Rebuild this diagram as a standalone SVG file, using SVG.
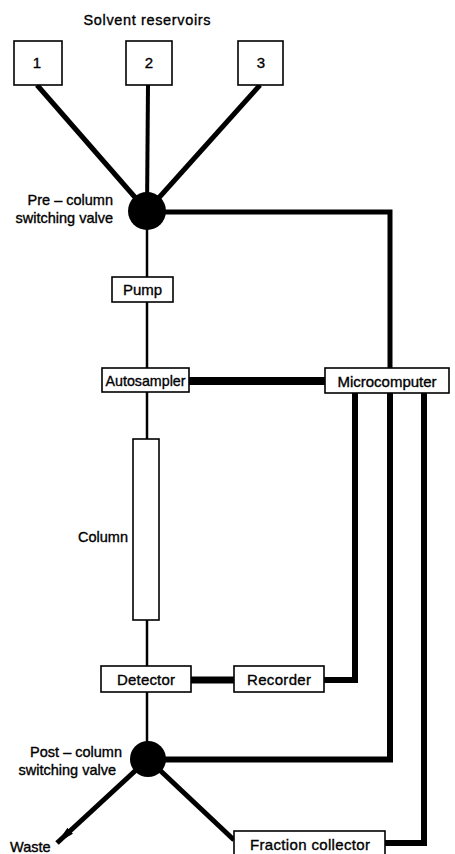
<svg xmlns="http://www.w3.org/2000/svg" width="455" height="854" viewBox="0 0 455 854">
<defs>
<style>
.box{fill:#fff;stroke:#000;stroke-width:1.6}
.t{font-family:"Liberation Sans",Arial,sans-serif;font-size:15px;fill:#000;stroke:#000;stroke-width:0.35}
.s{font-size:14.5px}
.c{text-anchor:middle}
.e{text-anchor:end}
.thin{fill:none;stroke:#000;stroke-width:2.5}
.thick{fill:none;stroke:#000;stroke-width:6}
.mid{fill:none;stroke:#000;stroke-width:5}
</style>
<marker id="arr" markerUnits="userSpaceOnUse" markerWidth="20" markerHeight="12" refX="18" refY="5" orient="auto">
<path d="M0,1 L18,5 L0,9 Z" fill="#000"/>
</marker>
</defs>
<rect width="455" height="854" fill="#fff"/>
<text class="t s c" x="147" y="25" textLength="127" lengthAdjust="spacing">Solvent reservoirs</text>

<g id="connectors">
<line class="mid" x1="37" y1="85" x2="147" y2="211"/>
<line class="mid" x1="148" y1="85" x2="147" y2="211" style="stroke-width:4"/>
<line class="mid" x1="260" y1="85" x2="147" y2="211"/>
<path class="mid" d="M147,212 H390 V368"/>
<line class="thin" x1="147" y1="211" x2="147" y2="277"/>
<line class="thin" x1="147" y1="302" x2="147" y2="368"/>
<line class="thin" x1="147" y1="392" x2="147" y2="439"/>
<line class="thin" x1="147" y1="620" x2="147" y2="666"/>
<line class="thin" x1="147" y1="692" x2="147" y2="759"/>
<line x1="189" y1="381" x2="325" y2="381" stroke="#000" stroke-width="8"/>
<path class="thick" d="M355,393 V680 H324"/>
<line x1="191" y1="680" x2="234" y2="680" stroke="#000" stroke-width="7"/>
<path class="thick" d="M390,393 V759.5 H148"/>
<path class="thick" d="M424,393 V843 H385"/>
<line class="mid" x1="148" y1="759" x2="234" y2="840"/>
<line class="mid" x1="148" y1="759" x2="57" y2="843" marker-end="url(#arr)"/>
</g>

<g id="reservoir1"><rect class="box" x="14" y="41" width="48" height="44"/><text class="t c" x="37" y="68">1</text></g>
<g id="reservoir2"><rect class="box" x="126" y="41" width="46" height="44"/><text class="t c" x="149" y="68">2</text></g>
<g id="reservoir3"><rect class="box" x="238" y="41" width="45" height="44"/><text class="t c" x="261" y="68">3</text></g>

<g id="prevalve">
<circle cx="147" cy="211" r="19" fill="#000"/>
<text class="t s e" x="113" y="205">Pre – column</text>
<text class="t s e" x="113" y="223">switching valve</text>
</g>

<g id="pump"><rect class="box" x="112" y="277" width="61" height="25"/><text class="t c" x="142.5" y="295">Pump</text></g>
<g id="autosampler"><rect class="box" x="102" y="368" width="87" height="24"/><text class="t c" x="145.5" y="385.5" textLength="80" lengthAdjust="spacingAndGlyphs">Autosampler</text></g>
<g id="microcomputer"><rect class="box" x="325" y="368" width="124" height="25"/><text class="t c" x="387" y="386.5" textLength="99" lengthAdjust="spacing">Microcomputer</text></g>
<g id="column"><rect class="box" x="133" y="439" width="26" height="181"/><text class="t s e" x="128" y="542">Column</text></g>
<g id="detector"><rect class="box" x="101" y="666" width="90" height="26"/><text class="t c" x="146" y="684.5" textLength="58" lengthAdjust="spacing">Detector</text></g>
<g id="recorder"><rect class="box" x="234" y="666" width="90" height="26"/><text class="t c" x="279" y="684.5" textLength="64" lengthAdjust="spacing">Recorder</text></g>

<g id="postvalve">
<circle cx="148" cy="759" r="18" fill="#000"/>
<text class="t s e" x="122" y="757">Post – column</text>
<text class="t s e" x="116" y="775">switching valve</text>
</g>

<g id="waste"><text class="t s" x="10" y="852">Waste</text></g>
<g id="fraction"><rect class="box" x="234" y="831" width="151" height="28"/><text class="t c" x="310" y="849.5" textLength="120" lengthAdjust="spacing">Fraction collector</text></g>
</svg>
